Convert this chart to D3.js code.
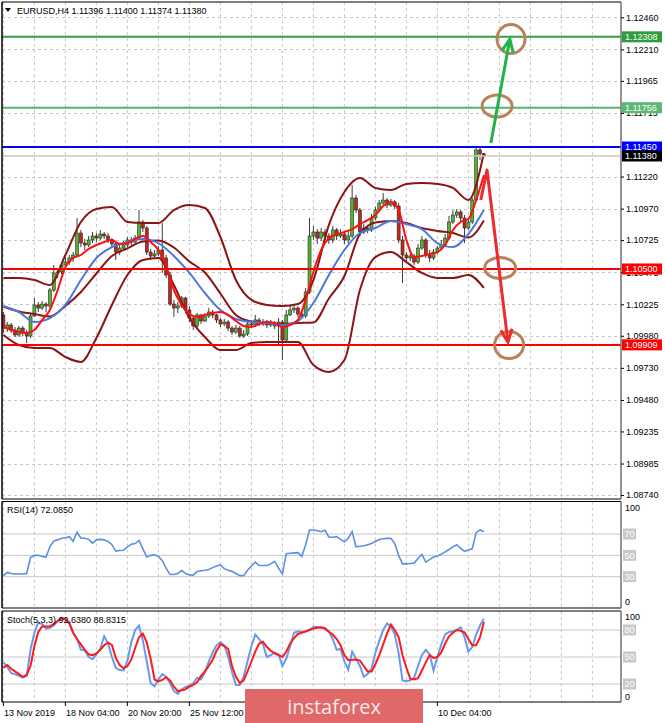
<!DOCTYPE html>
<html><head><meta charset="utf-8">
<script src="https://cdn.jsdelivr.net/npm/d3@7/dist/d3.min.js"></script>
<style>
html,body{margin:0;padding:0;background:#fff;}
svg{display:block;font-family:"Liberation Sans",Arial,sans-serif;}
</style></head><body>
<svg id="chart" width="665" height="723"></svg>
<script>
// ================= DATA =================
const titleText = "EURUSD,H4  1.11396 1.11400 1.11374 1.11380";
const rsiTitle = "RSI(14) 72.0850";
const stochTitle = "Stoch(5,3,3) 92.6380 88.8315";

const open0 = 1.10142;
const closes = [
1.10040,1.10064,1.10025,1.09986,1.10040,1.10002,1.09978,1.10134,1.10220,1.10196,
1.10227,1.10212,1.10336,1.10469,1.10477,1.10531,1.10554,1.10586,1.10609,1.10780,
1.10702,1.10687,1.10726,1.10757,1.10741,1.10772,1.10757,1.10726,1.10695,1.10632,
1.10663,1.10687,1.10726,1.10710,1.10741,1.10866,1.10819,1.10632,1.10601,1.10617,
1.10648,1.10586,1.10453,1.10227,1.10196,1.10212,1.10274,1.10181,1.10118,1.10056,
1.10142,1.10095,1.10134,1.10165,1.10142,1.10103,1.10072,1.10087,1.10040,1.10009,
1.10040,1.09978,1.09994,1.10072,1.10064,1.10103,1.10072,1.10087,1.10064,1.10079,
1.10056,1.10087,1.09947,1.10142,1.10181,1.10196,1.10149,1.10134,1.10321,1.10757,
1.10788,1.10741,1.10788,1.10757,1.10726,1.10804,1.10757,1.10772,1.10726,1.10757,
1.11053,1.10959,1.10788,1.10819,1.10804,1.10897,1.10959,1.11014,1.11037,1.10998,
1.11022,1.10990,1.10726,1.10609,1.10586,1.10601,1.10554,1.10663,1.10726,1.10609,
1.10586,1.10632,1.10663,1.10687,1.10741,1.10866,1.10920,1.10944,1.10897,1.10819,
1.10866,1.11037,1.11427,1.11396,1.11380];
const highs = [
1.10165,1.10087,1.10079,1.10048,1.10056,1.10056,1.10025,1.10157,1.10274,1.10243,
1.10251,1.10243,1.10352,1.10531,1.10508,1.10554,1.10593,1.10609,1.10632,1.10897,
1.10804,1.10734,1.10757,1.10788,1.10780,1.10804,1.10788,1.10780,1.10741,1.10710,
1.10695,1.10718,1.10749,1.10749,1.10765,1.10959,1.10881,1.10835,1.10656,1.10648,
1.10679,1.10858,1.10609,1.10477,1.10259,1.10243,1.10290,1.10282,1.10212,1.10134,
1.10157,1.10149,1.10157,1.10196,1.10181,1.10149,1.10118,1.10111,1.10103,1.10056,
1.10064,1.10056,1.10025,1.10087,1.10103,1.10142,1.10118,1.10111,1.10103,1.10103,
1.10095,1.10118,1.10103,1.10181,1.10212,1.10220,1.10212,1.10173,1.10352,1.10897,
1.10835,1.10811,1.10819,1.10811,1.10780,1.10835,1.10819,1.10811,1.10796,1.10804,
1.11154,1.11076,1.10975,1.10850,1.10843,1.10928,1.10983,1.11037,1.11092,1.11053,
1.11045,1.11037,1.11014,1.10757,1.10632,1.10624,1.10617,1.10695,1.10757,1.10741,
1.10648,1.10656,1.10679,1.10726,1.10772,1.10913,1.10959,1.10967,1.10959,1.10920,
1.10897,1.11053,1.11458,1.11442,1.11400];
const lows = [
1.10002,1.10009,1.10002,1.09970,1.09970,1.09978,1.09924,1.09963,1.10126,1.10165,
1.10181,1.10165,1.10196,1.10321,1.10430,1.10461,1.10515,1.10531,1.10554,1.10593,
1.10671,1.10648,1.10671,1.10702,1.10710,1.10726,1.10734,1.10702,1.10671,1.10570,
1.10609,1.10648,1.10671,1.10687,1.10695,1.10726,1.10788,1.10609,1.10570,1.10586,
1.10601,1.10469,1.10430,1.10212,1.10126,1.10157,1.10196,1.10157,1.10087,1.10025,
1.10040,1.10072,1.10087,1.10118,1.10118,1.10079,1.10048,1.10056,1.10017,1.09986,
1.09994,1.09963,1.09963,1.09978,1.10040,1.10048,1.10056,1.10056,1.10040,1.10048,
1.10033,1.09908,1.09791,1.09931,1.10134,1.10157,1.10126,1.10111,1.10118,1.10305,
1.10726,1.10695,1.10718,1.10726,1.10695,1.10702,1.10726,1.10741,1.10695,1.10702,
1.10741,1.10936,1.10757,1.10772,1.10780,1.10788,1.10881,1.10944,1.10998,1.10975,
1.10983,1.10967,1.10702,1.10391,1.10554,1.10562,1.10531,1.10539,1.10648,1.10586,
1.10554,1.10570,1.10617,1.10648,1.10671,1.10726,1.10850,1.10897,1.10866,1.10702,
1.10804,1.10850,1.11022,1.11349,1.11374];

const bars4 = [0,4,8,12,16,20,24,28,32,36,40,44,48,52,56,60,64,68,72,76,80,84,88,92,96,100,104,108,112,116,120,124];
const bars2 = [0,2,4,6,8,10,12,14,16,18,20,22,24,26,28,30,32,34,36,38,40,42,44,46,48,50,52,54,56,58,60,62,64,66,68,70,72,74,76,78,80,82,84,86,88,90,92,94,96,98,100,102,104,106,108,110,112,114,116,118,120,122,124];
const blueMA = [1.10212,1.10165,1.10087,1.10118,1.10220,1.10414,1.10586,1.10671,1.10710,1.10734,1.10702,1.10601,1.10469,1.10313,1.10181,1.10111,1.10087,1.10079,1.10064,1.10095,1.10235,1.10453,1.10648,1.10780,1.10819,1.10874,1.10850,1.10811,1.10702,1.10671,1.10772,1.10959];
const redMA = [1.10048,1.10025,1.10009,1.10002,1.10025,1.10103,1.10181,1.10336,1.10515,1.10586,
1.10609,1.10656,1.10687,1.10710,1.10726,1.10695,1.10702,1.10734,1.10757,1.10710,
1.10648,1.10523,1.10336,1.10220,1.10149,1.10126,1.10142,1.10157,1.10165,1.10142,
1.10095,1.10056,1.10048,1.10072,1.10087,1.10079,1.10048,1.10064,1.10103,1.10259,
1.10477,1.10648,1.10741,1.10772,1.10788,1.10811,1.10850,1.10881,1.10920,1.10990,
1.11022,1.10959,1.10726,1.10593,1.10601,1.10617,1.10632,1.10687,1.10804,1.10866,
1.10889,1.11037,1.11232];
const bbUpper = [1.10430,1.10430,1.10414,1.10375,1.10609,1.10866,1.10967,1.10983,1.10866,1.10858,1.10858,1.10959,1.10998,1.10975,1.10749,1.10414,1.10259,1.10220,1.10212,1.10227,1.10414,1.10843,1.11100,1.11209,1.11131,1.11115,1.11162,1.11170,1.11162,1.11131,1.11037,1.11403];
const bbMiddle = [1.10208,1.10169,1.10149,1.10130,1.10212,1.10321,1.10465,1.10601,1.10660,1.10714,1.10722,1.10667,1.10558,1.10473,1.10309,1.10142,1.10091,1.10076,1.10072,1.10079,1.10083,1.10270,1.10445,1.10772,1.10862,1.10874,1.10858,1.10819,1.10796,1.10780,1.10745,1.10878];
const bbLower = [1.09986,1.09908,1.09885,1.09885,1.09815,1.09776,1.09963,1.10220,1.10453,1.10570,1.10586,1.10375,1.10118,1.09970,1.09869,1.09869,1.09924,1.09931,1.09931,1.09931,1.09752,1.09698,1.09791,1.10336,1.10593,1.10632,1.10554,1.10469,1.10430,1.10430,1.10453,1.10352];

const rsi = [
31,34,33,32.5,32.5,32.5,33,48,50,50,
49,48.4,58,63.5,64.5,66,66.5,67.5,63.3,71.6,
66,66,65,61.5,64.5,65,64.5,63,60,54,
54.5,54.8,58,60.5,61,64,56,48.4,50,50.6,
49,45,38,32,32,33,35.7,33,31.6,31.5,
34.8,35.5,36,36.7,38.5,40,41,37.5,36,35,
33,31,31,36,40,43.7,40.5,40.5,40.5,42,
44.3,38,32.5,51.6,52,52.3,52.5,49,60,73.8,
73.8,73,72.2,73.5,67,67,67.5,65,62.7,66,
72.2,58,58.5,59,60,61,63,64.9,65.5,65.9,
65.9,61,50,42,42,42.3,42.7,47,51,43.7,
46,48.4,49.4,51,53.2,55.5,58,60,56.5,53.8,
55,56.3,71.3,73.8,72.085];
const stochK = [
44,39,32,31,29,27,29,58,77,88.4,
86.5,81.5,82.5,85,90,93.5,92,89,77,70,
58,57.5,50,47.5,53,59,73,65,50,38,
35.5,35,46,66,80,85,68,45,21,17.5,
25,31,28,21,12,9,14,16.7,18,21,
27,25,33,45,55,63,66.5,63,50,33,
19,19,28,45,62,75,70,64,50,52,
55,53,40,48,62,77,78.5,78,78,80,
83.6,83.3,82.5,81,78,70,58,59,45,36,
56,48,40,28,31,37,55,68,80,87.3,
84,75,54,24,23,24,27,40,52,58,
53,35,50,64,75,77.8,78.5,80,83,72,
56,61,75,85,92.638];
const stochD = [
38,41,37,34,31,28,30,40,62,78,
84,84,84,87,90,93,92,87,77,70,
64,58,53,52,54,58,63,66,63.5,49,
41,37.5,40,47,60,72,76,66,48,25,
23,24.5,27.5,24,17,12,13,14,17,19,
22,29,34,40,47,57,64,62,59,40,
28,21,24,34,45,56,65,67,61,57,
54,52,50,56,65,71,75.6,77,78.5,80,
81.5,82.5,83,82,78,75,70,63,52,46.5,
47,47.3,46,40,34,34,42,52,64,76,
86,80,72,52,38,26,25,26.5,35,44,
52,49,50,55,65,73,77,80,79,77.5,
70,63,63,72,88.8315];

const priceTicks = [1.12460,1.12210,1.11965,1.11715,1.11220,1.10970,1.10725,1.10475,1.10225,1.09980,1.09730,1.09480,1.09235,1.08985,1.08740];
const levelPrices = [1.12308,1.11756,1.11450,1.10500,1.09909];
const currentPrice = 1.11380;
const rsiLevels = [70,50,30];
const stochLevels = [80,50,20];
const timeBars = [0,16,32,48,112];
const timeLabels = ["13 Nov 2019","18 Nov 04:00","20 Nov 20:00","25 Nov 12:00","10 Dec 04:00"];

// annotations (bar index, price)
const greenArrow = [[125.8,1.11481],[130.7,1.12290]];
const redArrow = [[123.2,1.11037],[124.8,1.11271],[130.2,1.09930]];
const ellipses = [[131.0,1.12291,14,14.5],[127.4,1.11769,15,11],[128.2,1.10508,15.5,10.5],[130.5,1.09908,14.5,13.5]];

// ================= DRAW =================
const svg = d3.select('#chart');
const X0 = 2, X1 = 621;
const x = d3.scaleLinear().domain([0,160]).range([3.4,623.4]);
const yP = d3.scaleLinear().domain([1.08740,1.12460]).range([495,17.3]);
const yR = d3.scaleLinear().domain([0,100]).range([608.7,502]);
const yS = d3.scaleLinear().domain([0,100]).range([702,612]);
const panels = [{t:2,b:499},{t:501.5,b:608},{t:611,b:702}];
const gridBars = d3.range(0,160,8);

svg.append('rect').attr('width',665).attr('height',723).attr('fill','#fff');

svg.append('clipPath').attr('id','clipMain').append('rect')
  .attr('x',X0).attr('y',panels[0].t).attr('width',X1-X0).attr('height',panels[0].b-panels[0].t);

panels.forEach(p=>{
  svg.append('g').selectAll('line').data(gridBars).join('line')
    .attr('x1',d=>x(d)).attr('x2',d=>x(d)).attr('y1',p.t).attr('y2',p.b)
    .attr('stroke','#c8c8c8').attr('stroke-dasharray','3,3');
});
svg.append('g').selectAll('line').data(priceTicks).join('line')
  .attr('x1',X0).attr('x2',X1).attr('y1',d=>Math.round(yP(d))+0.5).attr('y2',d=>Math.round(yP(d))+0.5)
  .attr('stroke','#c8c8c8').attr('stroke-dasharray','3,3');

// ---------- main panel ----------
const main = svg.append('g').attr('clip-path','url(#clipMain)');
const bars = closes.map((c,i)=>({i, o: i===0?open0:closes[i-1], h: highs[i], l: lows[i], c}));

main.append('g').selectAll('line').data(bars).join('line')
  .attr('x1',d=>x(d.i)).attr('x2',d=>x(d.i))
  .attr('y1',d=>yP(d.h)).attr('y2',d=>yP(d.l))
  .attr('stroke','#3a3a3a').attr('stroke-width',1);
main.append('g').selectAll('rect').data(bars).join('rect')
  .attr('x',d=>x(d.i)-1.5).attr('width',3)
  .attr('y',d=>yP(Math.max(d.o,d.c)))
  .attr('height',d=>Math.max(1,Math.abs(yP(d.o)-yP(d.c))))
  .attr('fill',d=>d.c>=d.o?'#52b52b':'#c0261e')
  .attr('stroke','#2a2a2a').attr('stroke-width',0.6);

function pLine(barsArr, vals){
  return d3.line().x((d,k)=>x(barsArr[k])).y(d=>yP(d)).curve(d3.curveMonotoneX)(vals);
}
[bbUpper,bbMiddle,bbLower].forEach(v=>{
  main.append('path').attr('d',pLine(bars4,v)).attr('fill','none')
    .attr('stroke','#8b1414').attr('stroke-width',2);
});
main.append('path').attr('d',pLine(bars4,blueMA)).attr('fill','none').attr('stroke','#4a78e0').attr('stroke-width',2);
main.append('path').attr('d',pLine(bars2,redMA)).attr('fill','none').attr('stroke','#ff1010').attr('stroke-width',2);

main.append('line').attr('x1',X0).attr('x2',X1).attr('y1',yP(currentPrice)).attr('y2',yP(currentPrice))
  .attr('stroke','#c8c8c8').attr('stroke-width',1.5);
const levelColors = ['#35a043','#55b56e','#0000ff','#ff0000','#ff0000'];
main.append('g').selectAll('line').data(levelPrices).join('line')
  .attr('x1',X0).attr('x2',X1).attr('y1',d=>yP(d)).attr('y2',d=>yP(d))
  .attr('stroke',(d,k)=>levelColors[k]).attr('stroke-width',2);

const annot = svg.append('g');
ellipses.forEach(e=>{
  annot.append('ellipse').attr('cx',x(e[0])).attr('cy',yP(e[1])).attr('rx',e[2]).attr('ry',e[3])
    .attr('fill','none').attr('stroke','#b8835a').attr('stroke-width',3);
});
function arrow(pts,color){
  const P = pts.map(p=>[x(p[0]),yP(p[1])]);
  annot.append('path').attr('d',d3.line()(P)).attr('fill','none').attr('stroke',color)
    .attr('stroke-width',3).attr('stroke-linejoin','round');
  const a=P[P.length-2], b=P[P.length-1];
  const ang=Math.atan2(b[1]-a[1],b[0]-a[0]), L=14, w=0.42;
  const h1=[b[0]-L*Math.cos(ang-w), b[1]-L*Math.sin(ang-w)];
  const h2=[b[0]-L*Math.cos(ang+w), b[1]-L*Math.sin(ang+w)];
  annot.append('path').attr('d',d3.line()([h1,b,h2])).attr('fill','none').attr('stroke',color)
    .attr('stroke-width',3).attr('stroke-linejoin','miter');
}
arrow(greenArrow,'#22b24a');
arrow(redArrow,'#ee2a2a');

// ---------- RSI ----------
const rsiG = svg.append('g');
rsiG.selectAll('line').data(rsiLevels).join('line')
  .attr('x1',X0).attr('x2',X1).attr('y1',d=>yR(d)).attr('y2',d=>yR(d)).attr('stroke','#c8c8c8').attr('stroke-width',1);
rsiG.append('path').attr('d',d3.line().x((d,i)=>x(i)).y(d=>yR(d))(rsi))
  .attr('fill','none').attr('stroke','#5b8ee6').attr('stroke-width',1.6);

// ---------- Stoch ----------
const stG = svg.append('g');
stG.selectAll('line').data(stochLevels).join('line')
  .attr('x1',X0).attr('x2',X1).attr('y1',d=>yS(d)).attr('y2',d=>yS(d)).attr('stroke','#c8c8c8').attr('stroke-width',1);
stG.append('path').attr('d',d3.line().x((d,i)=>x(i)).y(d=>yS(d))(stochK))
  .attr('fill','none').attr('stroke','#6a98ee').attr('stroke-width',2);
stG.append('path').attr('d',d3.line().x((d,i)=>x(i)).y(d=>yS(d))(stochD))
  .attr('fill','none').attr('stroke','#ff1a1a').attr('stroke-width',2);

// ---------- frames ----------
panels.forEach(p=>{
  svg.append('line').attr('x1',X0).attr('x2',X1).attr('y1',p.t).attr('y2',p.t).attr('stroke','#000');
  svg.append('line').attr('x1',X0).attr('x2',X1).attr('y1',p.b).attr('y2',p.b).attr('stroke','#000');
  svg.append('line').attr('x1',X0).attr('x2',X0).attr('y1',p.t).attr('y2',p.b).attr('stroke','#000').attr('stroke-width',1.5);
  svg.append('line').attr('x1',X1).attr('x2',X1).attr('y1',p.t).attr('y2',p.b).attr('stroke','#707070').attr('stroke-width',1.5);
});

// ---------- price axis ----------
const axisG = svg.append('g').attr('transform',`translate(${X1},0)`)
  .call(d3.axisRight(yP).tickValues(priceTicks).tickFormat(d3.format('.5f')).tickSize(3).tickPadding(2));
axisG.select('.domain').remove();
axisG.selectAll('text').attr('font-size',9).attr('fill','#000').attr('font-family','"Liberation Sans",Arial,sans-serif');
axisG.selectAll('line').attr('stroke','#000');

const boxFill = ['#2f9b3c','#5bb872','#0000ff','#ff0000','#ff0000'];
const boxes = svg.append('g');
const allBoxes = levelPrices.map((p,k)=>({p,fill:boxFill[k]})).concat([{p:currentPrice,fill:'#000'}]);
allBoxes.forEach(b=>{
  boxes.append('rect').attr('x',X1+1).attr('y',yP(b.p)-5.5).attr('width',40).attr('height',11).attr('fill',b.fill);
  boxes.append('text').attr('x',X1+4).attr('y',yP(b.p)+3.3).attr('font-size',9).attr('fill','#fff').text(d3.format('.5f')(b.p));
});

function subAxis(scale, levels, top, bottom, topY, botY){
  const g = svg.append('g');
  g.append('text').attr('x',X1+4).attr('y',topY).attr('font-size',9).attr('fill','#000').text(top);
  g.append('text').attr('x',X1+4).attr('y',botY).attr('font-size',9).attr('fill','#000').text(bottom);
  levels.forEach(v=>{
    g.append('rect').attr('x',X1+2).attr('y',scale(v)-5.5).attr('width',13).attr('height',11).attr('fill','#c8c8c8');
    g.append('text').attr('x',X1+3.5).attr('y',scale(v)+3.3).attr('font-size',9).attr('fill','#fff').text(v);
  });
}
subAxis(yR, rsiLevels, '100', '0', 511, 605);
subAxis(yS, stochLevels, '100', '0', 620, 700);

svg.append('path').attr('d','M5,8 L11,8 L8,12 Z').attr('fill','#000');
svg.append('text').attr('x',17).attr('y',14).attr('font-size',9).attr('fill','#000').text(titleText);
svg.append('text').attr('x',7).attr('y',513).attr('font-size',9).attr('fill','#000').text(rsiTitle);
svg.append('text').attr('x',7).attr('y',623).attr('font-size',9).attr('fill','#000').text(stochTitle);

const tG = svg.append('g');
timeBars.forEach((b,k)=>{
  tG.append('line').attr('x1',x(b)).attr('x2',x(b)).attr('y1',702).attr('y2',706).attr('stroke','#000');
  tG.append('text').attr('x',x(b)+0.5).attr('y',716).attr('font-size',9).attr('fill','#000').text(timeLabels[k]);
});

svg.append('rect').attr('x',245).attr('y',689).attr('width',178).attr('height',34).attr('fill','#e06868');
svg.append('text').attr('x',334).attr('y',714).attr('text-anchor','middle').attr('font-size',20)
  .attr('font-family','"Open Sans",Lato,sans-serif').attr('fill','#fbeaea').text('instaforex');
</script>
</body></html>
